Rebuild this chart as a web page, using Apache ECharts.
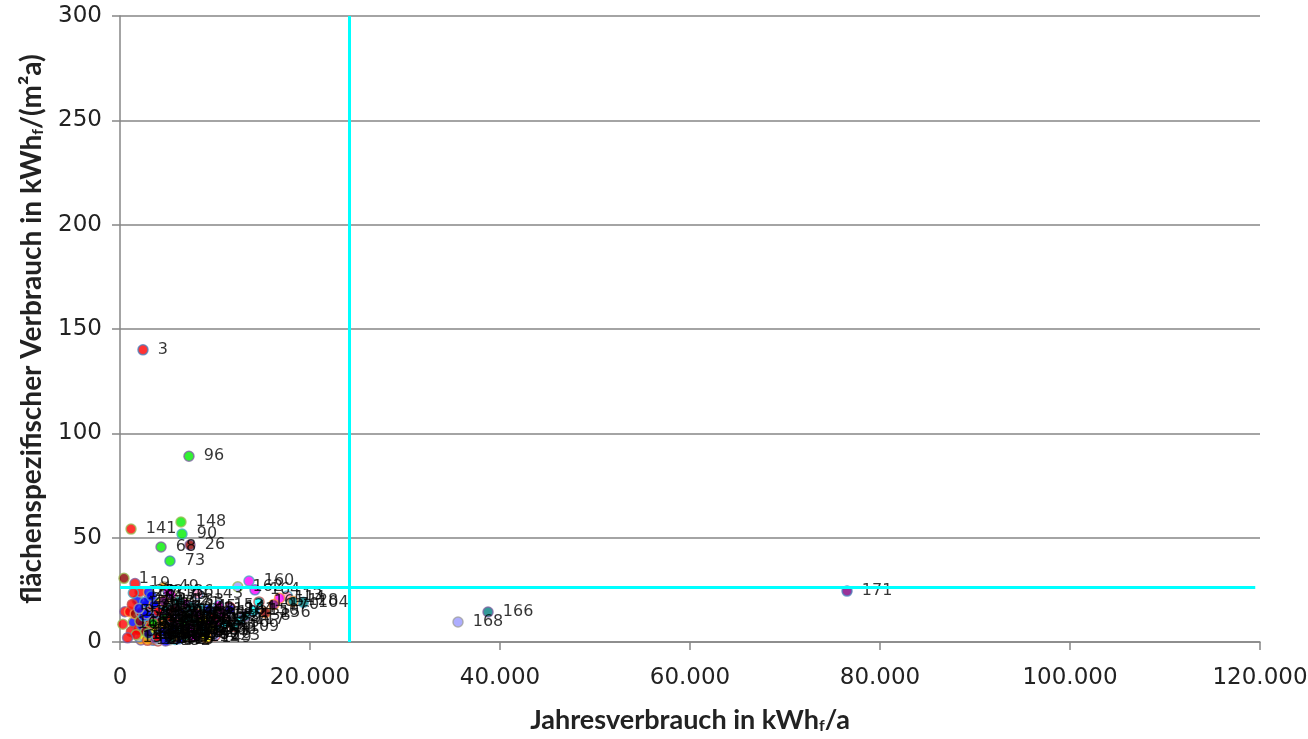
<!DOCTYPE html>
<html>
<head>
<meta charset="utf-8">
<script src="https://cdn.jsdelivr.net/npm/echarts@6/dist/echarts.min.js"></script>
<style>
html,body{margin:0;padding:0;background:#fff;}
#chart{width:1308px;height:739px;}
</style>
</head>
<body>
<div id="chart"></div>
<script>
// ---- data ----
const pointIds = [];
for (let i = 1; i <= 171; i++) pointIds.push(i);

const annualUse = [
  420, 2600, 2420, 3100, 520, 3900, 2900, 4700, 1000, 5600,
  3300, 2200, 17600, 6100, 1400, 4100, 3500, 5200, 1580, 2700,
  7000, 1800, 4400, 8200, 3700, 7370, 6500, 2100, 5000, 9200,
  3000, 6800, 4600, 2500, 8600, 5400, 3200, 7600, 1200, 4200,
  5800, 9800, 3600, 6300, 2000, 7200, 4900, 8300, 4600, 3400,
  5700, 2800, 10500, 6600, 3900, 4300, 7900, 1600, 5300, 8900,
  3100, 6000, 2400, 4800, 7400, 9500, 3500, 4320, 5900, 2200,
  6900, 3000, 5260, 4000, 8000, 2600, 5100, 10200, 3800, 6200,
  1900, 7700, 4500, 3300, 9000, 5500, 2300, 6700, 11200, 6530,
  4100, 8400, 3600, 5800, 2900, 7260, 4900, 7100, 3200, 9600,
  5000, 10800, 3700, 19300, 6400, 2700, 8700, 4700, 12000, 5600,
  3400, 7800, 2100, 16800, 6100, 4300, 12630, 9300, 5200, 3000,
  8100, 4000, 10000, 6600, 2500, 7300, 3800, 18200, 5400, 11000,
  4400, 9900, 6200, 1700, 8500, 5100, 3500, 13200, 6800, 2800,
  1160, 4600, 8200, 11600, 7500, 3900, 5700, 6420, 9100, 14100,
  1300, 4800, 10400, 2000, 7000, 15300, 3300, 6000, 800, 13580,
  11580, 12400, 8800, 14210, 14630, 38740, 1400, 35580, 300, 16200,
  76530
];

const specificUse = [
  30.5, 6.5, 140, 2.0, 14.5, 8.5, 12.0, 3.5, 14.5, 5.0,
  9.5, 1.0, 22.0, 7.5, 9.5, 11.5, 0.8, 10.0, 28.0, 17.0,
  5.5, 20.0, 1.5, 9.0, 4.5, 46.5, 11.0, 24.0, 14.0, 7.0,
  15.0, 2.5, 7.0, 10.5, 12.5, 22.5, 5.5, 4.0, 5.0, 19.0,
  1.2, 10.5, 13.0, 8.5, 2.5, 14.5, 5.0, 16.0, 26.5, 1.5,
  12.0, 8.0, 8.0, 4.5, 16.5, 3.0, 6.0, 13.5, 8.0, 3.5,
  21.0, 16.0, 3.5, 9.5, 10.0, 13.0, 6.5, 45.5, 3.0, 14.0,
  18.5, 24.0, 38.8, 0.5, 8.0, 19.0, 6.5, 5.5, 11.0, 1.5,
  6.0, 12.5, 13.5, 3.0, 9.5, 2.0, 8.0, 6.0, 11.0, 51.7,
  5.5, 4.5, 18.0, 9.0, 0.8, 89, 16.5, 8.0, 7.5, 6.0,
  4.0, 14.0, 2.0, 19.0, 13.5, 5.0, 10.5, 11.0, 7.5, 15.0,
  12.0, 2.5, 10.0, 21.0, 4.5, 8.0, 10.5, 15.5, 1.0, 4.0,
  13.5, 14.5, 3.0, 10.5, 12.5, 7.0, 6.0, 19.5, 11.5, 9.0,
  4.5, 12.0, 19.5, 3.5, 7.0, 24.0, 9.0, 12.5, 3.5, 13.5,
  54.1, 19.5, 23.0, 16.5, 17.0, 2.5, 6.5, 57.5, 2.0, 15.0,
  18.0, 0.5, 17.5, 16.0, 11.5, 14.0, 22.0, 13.0, 2.0, 29.2,
  15.5, 26.5, 5.5, 25.0, 19.2, 14.4, 23.5, 9.6, 8.5, 18.0,
  24.4
];

const markerColors = [
  'dr','bl','r','y','r','tl','bl','g','r','m',
  'nv','or','pk','tl','bl','pu','r','cy','r','bl',
  'ol','bl','y','lv','r','dr','bl','r','m','tl',
  'dr','g','bl','nv','cy','m','or','pu','r','g',
  'tl','bl','r','y','gy','tl','dr','tl','or','bl',
  'pu','r','m','nv','bl','g','lv','dr','tl','ol',
  'bl','m','y','cy','r','tl','nv','g','pu','r',
  'm','bl','g','gy','tl','bl','or','tl','dr','bl',
  'r','cy','m','g','pu','y','bl','tl','lv','g',
  'r','nv','bl','m','or','g','tl','cy','r','ol',
  'bl','m','pu','tl','bl','dr','y','g','tl','r',
  'bl','m','dr','m','cy','or','cy','bl','tl','nv',
  'pu','r','lv','g','bl','m','y','tl','r','cy',
  'bl','dr','tl','r','bl','m','g','tl','or','bl',
  'r','pu','pk','m','tl','r','nv','g','y','cy',
  'r','bl','m','bl','tl','dr','bl','lv','r','m',
  'bl','lv','tl','m','cy','tl','r','lv','r','pu',
  'pu'
];

const thresholdX = 24100;
const thresholdY = 26.4;
const thresholdYEndX = 119500;

const xTickValues = [0, 20000, 40000, 60000, 80000, 100000, 120000];
const yTickValues = [0, 50, 100, 150, 200, 250, 300];

// ---- styling ----
const palette = {
  r: '#ff0000', dr: '#8b0000', bl: '#0000ff', nv: '#000080', g: '#00ee00',
  tl: '#008080', cy: '#00ffff', m: '#ff00ff', pu: '#800080', or: '#ff9900',
  y: '#ffff00', lv: '#9999ff', gy: '#c0c0c0', ol: '#808000', pk: '#ff99cc'
};
const borderCycle = ['#9bbb59', '#f79646', '#4f81bd', '#c0504d', '#8064a2', '#4bacc6', '#a0a0a0'];

const data = pointIds.map((id, i) => ({
  value: [annualUse[i], specificUse[i]],
  itemStyle: {
    color: palette[markerColors[i]],
    borderColor: borderCycle[i % borderCycle.length],
    borderWidth: 1.5
  }
}));

const chart = echarts.init(document.getElementById('chart'), null, {renderer: 'canvas'});
const axisGray = '#868686';
const fmtThousand = v => v === 0 ? '0' : String(v).replace(/\B(?=(\d{3})+(?!\d))/g, '.');

chart.setOption({
  animation: false,
  backgroundColor: '#ffffff',
  grid: {left: 120, right: 48, top: 16, bottom: 97, containLabel: false, outerBoundsMode: 'none'},
  xAxis: {
    type: 'value',
    min: xTickValues[0], max: xTickValues[xTickValues.length - 1], interval: 20000,
    axisLine: {show: true, onZero: false, lineStyle: {color: axisGray, width: 1.5}},
    axisTick: {show: true, length: 8, lineStyle: {color: axisGray, width: 1.5}},
    splitLine: {show: false},
    axisLabel: {formatter: fmtThousand, fontFamily: 'DejaVu Sans', fontSize: 23, color: '#222', margin: 25},
    name: '{t|Jahresverbrauch in kWh}{s|f}{t|/a}',
    nameLocation: 'middle', nameGap: 64,
    nameTextStyle: {
      rich: {
        t: {fontFamily: 'Lato', fontWeight: 'bold', fontSize: 27, color: '#222'},
        s: {fontFamily: 'Lato', fontWeight: 'bold', fontSize: 16, color: '#222', padding: [12, 0, 0, 0]}
      }
    }
  },
  yAxis: {
    type: 'value',
    min: yTickValues[0], max: yTickValues[yTickValues.length - 1], interval: 50,
    axisLine: {show: true, lineStyle: {color: axisGray, width: 1.5}},
    axisTick: {show: true, length: 8, lineStyle: {color: axisGray, width: 1.5}},
    splitLine: {show: true, lineStyle: {color: axisGray, width: 1.5}},
    axisLabel: {fontFamily: 'DejaVu Sans', fontSize: 23, color: '#222', margin: 18},
    name: '{t|flächenspezifischer Verbrauch in kWh}{s|f}{t|/(m²a)}',
    nameLocation: 'middle', nameGap: 74, nameRotate: 90,
    nameTextStyle: {
      rich: {
        t: {fontFamily: 'Lato', fontWeight: 'bold', fontSize: 28, color: '#222'},
        s: {fontFamily: 'Lato', fontWeight: 'bold', fontSize: 16, color: '#222', padding: [12, 0, 0, 0]}
      }
    }
  },
  series: [{
    type: 'scatter',
    symbol: 'circle',
    symbolSize: 10,
    data: data,
    label: {
      show: true,
      position: 'right',
      distance: 9,
      offset: [0, 2],
      formatter: p => String(pointIds[p.dataIndex]),
      fontFamily: 'DejaVu Sans',
      fontSize: 16,
      color: '#000'
    },
    labelLayout: {hideOverlap: false},
    markLine: {
      silent: true,
      symbol: 'none',
      animation: false,
      label: {show: false},
      lineStyle: {color: '#00ffff', width: 3, type: 'solid'},
      data: [
        {xAxis: thresholdX},
        [{coord: [0, thresholdY]}, {coord: [thresholdYEndX, thresholdY]}]
      ]
    }
  }]
});
</script>
</body>
</html>
